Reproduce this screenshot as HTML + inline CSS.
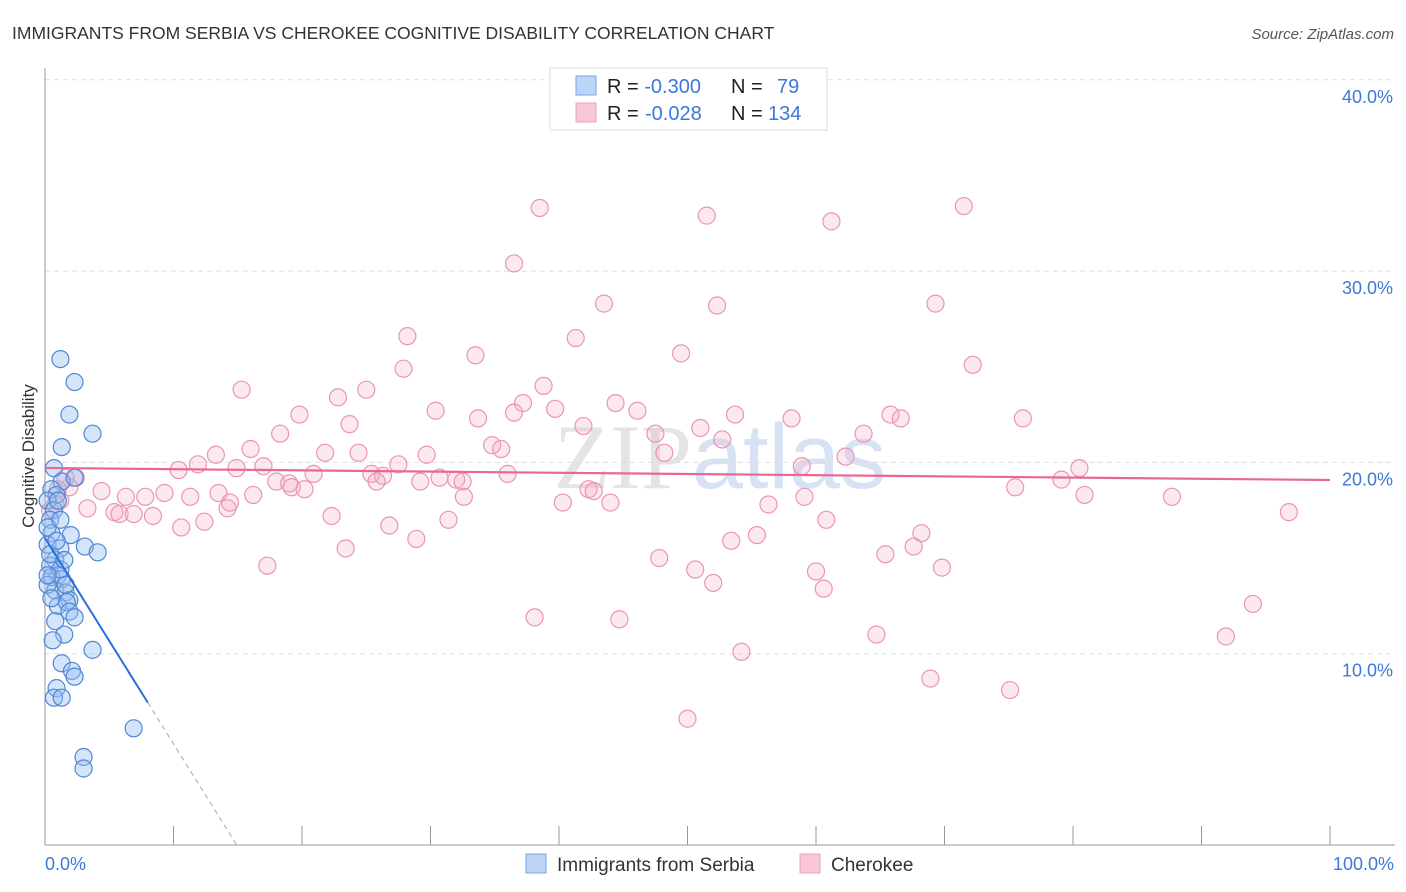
<!DOCTYPE html>
<html><head><meta charset="utf-8"><style>
body{margin:0;background:#fff;font-family:"Liberation Sans",sans-serif;}
svg{display:block}
</style></head><body>
<svg id="chart" width="1406" height="892">
<text x="12" y="39" font-size="17.5" fill="#333">IMMIGRANTS FROM SERBIA VS CHEROKEE COGNITIVE DISABILITY CORRELATION CHART</text>
<text x="1394" y="39" font-size="15" fill="#555" font-style="italic" text-anchor="end">Source: ZipAtlas.com</text>
<text x="720" y="488" font-size="92" fill="#e4e4e4" text-anchor="middle" font-family="Liberation Serif">ZIP<tspan fill="#d7e3f5" font-family="Liberation Sans">atlas</tspan></text>
<g id="grid"></g><g id="axes"></g><g id="pts"></g><g id="lines"></g>
<text transform="translate(34,456) rotate(-90)" font-size="17" fill="#333" text-anchor="middle">Cognitive Disability</text>
<text x="45" y="870" font-size="18" fill="#3c78d8">0.0%</text>
<text x="1394" y="870" font-size="18" fill="#3c78d8" text-anchor="end">100.0%</text>
<g>
<rect x="550" y="68" width="277" height="62" fill="#fff" stroke="#ddd"/>
<rect x="576" y="76" width="20" height="19" fill="#bcd4f5" stroke="#7aa6e6"/>
<rect x="576" y="103" width="20" height="19" fill="#f9c8d7" stroke="#eea0b8"/>
<text x="607" y="93" font-size="20" fill="#222">R = <tspan fill="#3c78d8">-0.300</tspan><tspan x="731">N = </tspan><tspan x="777" fill="#3c78d8">79</tspan></text>
<text x="607" y="120" font-size="20" fill="#222">R = <tspan fill="#3c78d8" x="645">-0.028</tspan><tspan x="731">N = </tspan><tspan x="768" fill="#3c78d8">134</tspan></text>
</g>
<g>
<rect x="526" y="854" width="20" height="19" fill="#bcd4f5" stroke="#7aa6e6"/>
<text x="557" y="871" font-size="19" fill="#333">Immigrants from Serbia</text>
<rect x="800" y="854" width="20" height="19" fill="#f9c8d7" stroke="#eea0b8"/>
<text x="831" y="871" font-size="19" fill="#333">Cherokee</text>
</g>
</svg>
<script>
const yTicks=[10,20,30,40];
const yTickLabels=["10.0%","20.0%","30.0%","40.0%"];
const xTicks=[0,10,20,30,40,50,60,70,80,90,100];
const pinkX=[38.5,51.5,61.2,71.5,36.5,43.5,52.3,69.3,28.2,41.3,33.5,49.5,72.2,27.9,15.3,22.8,25.0,38.8,37.2,44.4,19.8,30.4,33.7,36.5,39.7,46.1,53.7,58.1,65.8,66.6,76.1,23.7,41.9,51.0,18.3,47.5,63.7,13.3,16.0,21.8,24.4,29.7,34.8,35.5,48.2,52.7,62.3,10.4,11.9,14.9,17.0,20.9,25.4,26.3,27.5,30.7,32.0,32.5,36.0,58.9,80.5,2.4,4.4,6.3,7.8,9.3,11.3,13.5,16.2,18.0,19.0,19.2,20.2,25.8,29.2,32.6,42.3,42.7,40.3,44.0,56.3,59.1,75.5,79.1,80.9,87.7,96.8,3.3,5.4,5.8,6.9,8.4,10.6,12.4,14.2,14.4,22.3,31.4,26.8,28.9,23.4,55.4,53.4,60.8,68.2,67.6,65.4,17.3,47.8,50.6,52.0,60.0,60.6,69.8,38.1,44.7,54.2,64.7,91.9,94.0,68.9,75.1,50.0,1.9,1.2,0.4,1.6,1.0,0.8];
const pinkY=[33.3,32.9,32.6,33.4,30.4,28.3,28.2,28.3,26.6,26.5,25.6,25.7,25.1,24.9,23.8,23.4,23.8,24.0,23.1,23.1,22.5,22.7,22.3,22.6,22.8,22.7,22.5,22.3,22.5,22.3,22.3,22.0,21.9,21.8,21.5,21.5,21.5,20.4,20.7,20.5,20.5,20.4,20.9,20.7,20.5,21.2,20.3,19.6,19.9,19.7,19.8,19.4,19.4,19.3,19.9,19.2,19.1,19.0,19.4,19.8,19.7,19.2,18.5,18.2,18.2,18.4,18.2,18.4,18.3,19.0,18.9,18.7,18.6,19.0,19.0,18.2,18.6,18.5,17.9,17.9,17.8,18.2,18.7,19.1,18.3,18.2,17.4,17.6,17.4,17.3,17.3,17.2,16.6,16.9,17.6,17.9,17.2,17.0,16.7,16.0,15.5,16.2,15.9,17.0,16.3,15.6,15.2,14.6,15.0,14.4,13.7,14.3,13.4,14.5,11.9,11.8,10.1,11.0,10.9,12.6,8.7,8.1,6.6,18.7,18.0,17.5,19.2,18.6,17.8];
const blueX=[1.2,2.3,1.9,3.7,1.3,0.7,1.3,2.3,0.5,0.9,0.2,0.7,0.4,0.5,2.0,3.1,4.1,0.2,1.2,0.8,0.4,1.0,0.5,1.3,0.8,1.6,0.2,1.9,1.0,1.7,1.9,0.8,1.5,2.3,0.6,3.7,1.3,2.1,2.3,0.9,0.7,1.3,6.9,3.0,3.0,0.2,0.4,0.9,1.2,1.6,0.5,1.2,1.0,1.5,0.2];
const blueY=[25.4,24.2,22.5,21.5,20.8,19.7,19.0,19.2,18.6,18.3,18.0,17.5,17.0,16.3,16.2,15.6,15.3,15.7,15.5,14.9,14.6,14.1,14.0,13.9,13.3,13.2,13.6,12.8,12.5,12.7,12.2,11.7,11.0,11.9,10.7,10.2,9.5,9.1,8.8,8.2,7.7,7.7,6.1,4.6,4.0,16.6,15.2,15.9,14.4,13.6,12.9,17.0,18.0,14.9,14.1];
const blueTrend=[16.05,-1.076]; // intercept, slope
const pinkTrend=[19.71,-0.0063];
const X0=45,X1=1330,Y0=845,PPY=19.13;
const sx=v=>X0+(X1-X0)*v/100, sy=v=>Y0-v*PPY;
const NS='http://www.w3.org/2000/svg';
function mk(t,a,p){const e=document.createElementNS(NS,t);for(const k in a)e.setAttribute(k,a[k]);p.appendChild(e);return e;}
const grid=document.getElementById('grid'),axes=document.getElementById('axes'),pts=document.getElementById('pts'),lines=document.getElementById('lines');
yTicks.forEach((t,i)=>{
 const l=mk('line',{x1:45,x2:1395,y1:sy(t),y2:sy(t),stroke:'#ddd','stroke-dasharray':'5,4'},grid);
 
 
 const tx=mk('text',{x:1393,y:sy(t)+23,'font-size':18,fill:'#3c78d8','text-anchor':'end'},grid);
 tx.textContent=yTickLabels[i];
 
 
});
const la=mk('line',{x1:45,x2:45,y1:68,y2:845,stroke:'#999'},axes);


const ba=mk('line',{x1:45,x2:1395,y1:845,y2:845,stroke:'#999'},axes);


xTicks.forEach(t=>{
 const l=mk('line',{x1:sx(t),x2:sx(t),y1:826,y2:845,stroke:'#999'},axes);
 
 
});
pinkX.forEach((x,i)=>{
 const c=mk('circle',{cx:sx(x),cy:sy(pinkY[i]),r:8.5,fill:'rgba(246,172,198,0.28)',stroke:'#eb95b2','stroke-width':1.2},pts);
 
 
});
blueX.forEach((x,i)=>{
 const c=mk('circle',{cx:sx(x),cy:sy(blueY[i]),r:8.5,fill:'rgba(150,190,240,0.4)',stroke:'#4f86d6','stroke-width':1.2},pts);
 
 
});
const bz=-blueTrend[0]/blueTrend[1];
const b1=mk('line',{x1:sx(0),y1:sy(blueTrend[0]),x2:sx(8),y2:sy(blueTrend[0]+8*blueTrend[1]),stroke:'#2a6fdb','stroke-width':2},lines);


const b2=mk('line',{x1:sx(8),y1:sy(blueTrend[0]+8*blueTrend[1]),x2:sx(bz),y2:sy(0),stroke:'#9ab','stroke-width':1,'stroke-dasharray':'5,4'},lines);


const p1=mk('line',{x1:sx(0),y1:sy(pinkTrend[0]),x2:sx(100),y2:sy(pinkTrend[0]+100*pinkTrend[1]),stroke:'#e8688f','stroke-width':2.2},lines);


</script>
</body></html>
